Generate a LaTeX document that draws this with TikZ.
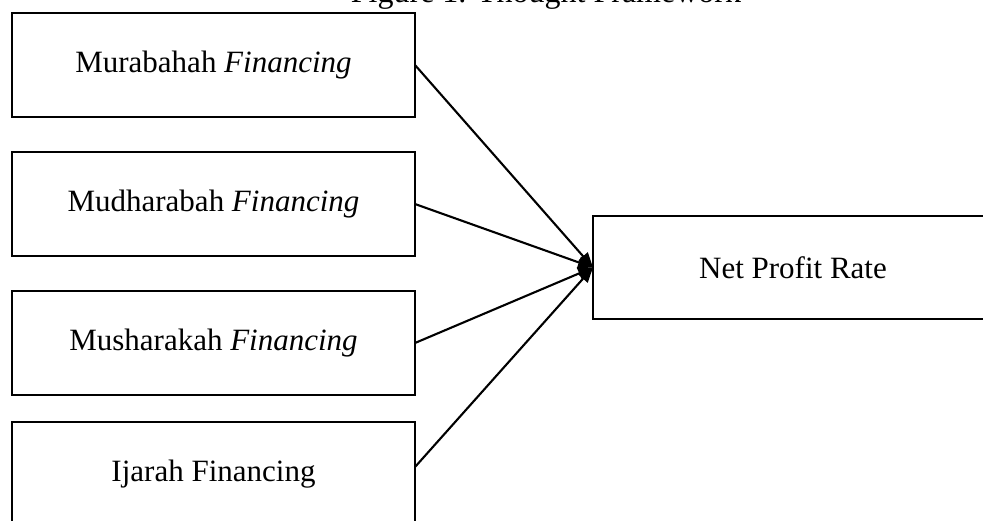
\documentclass[tikz,border=0pt]{standalone}
\usepackage{fontspec}
\setmainfont{Liberation Serif}
\usetikzlibrary{arrows.meta}
\begin{document}
\begin{tikzpicture}[x=1pt,y=-1pt,
  box/.style={draw, line width=2.2pt, minimum width=403pt, minimum height=104pt,
    inner sep=0pt, outer sep=0pt, font=\fontsize{31}{37}\selectfont},
  link/.style={line width=2.1pt, -{Triangle[length=15pt,width=12pt]}},
  titletext/.style={inner sep=0pt, font=\fontsize{32}{38}\selectfont}]
\useasboundingbox (0,0) rectangle (983,520);
\clip (0,0) rectangle (983,520);
\node[titletext, anchor=base] (title) at (546,2) {Figure 1. Thought Framework};
\node[box] (b1) at (213.5,65) {Murabahah \textit{Financing}};
\node[box] (b2) at (213.5,204) {Mudharabah \textit{Financing}};
\node[box] (b3) at (213.5,343) {Musharakah \textit{Financing}};
\node[box] (b4) at (213.5,474) {Ijarah Financing};
\node[box, minimum width=400pt, minimum height=103pt] (npr) at (793,267.5) {Net Profit Rate};
\draw[link] (b1.east) -- (npr.west);
\draw[link] (b2.east) -- (npr.west);
\draw[link] (b3.east) -- (npr.west);
\draw[link] ([yshift=7pt]b4.east) -- (npr.west);
\end{tikzpicture}
\end{document}
